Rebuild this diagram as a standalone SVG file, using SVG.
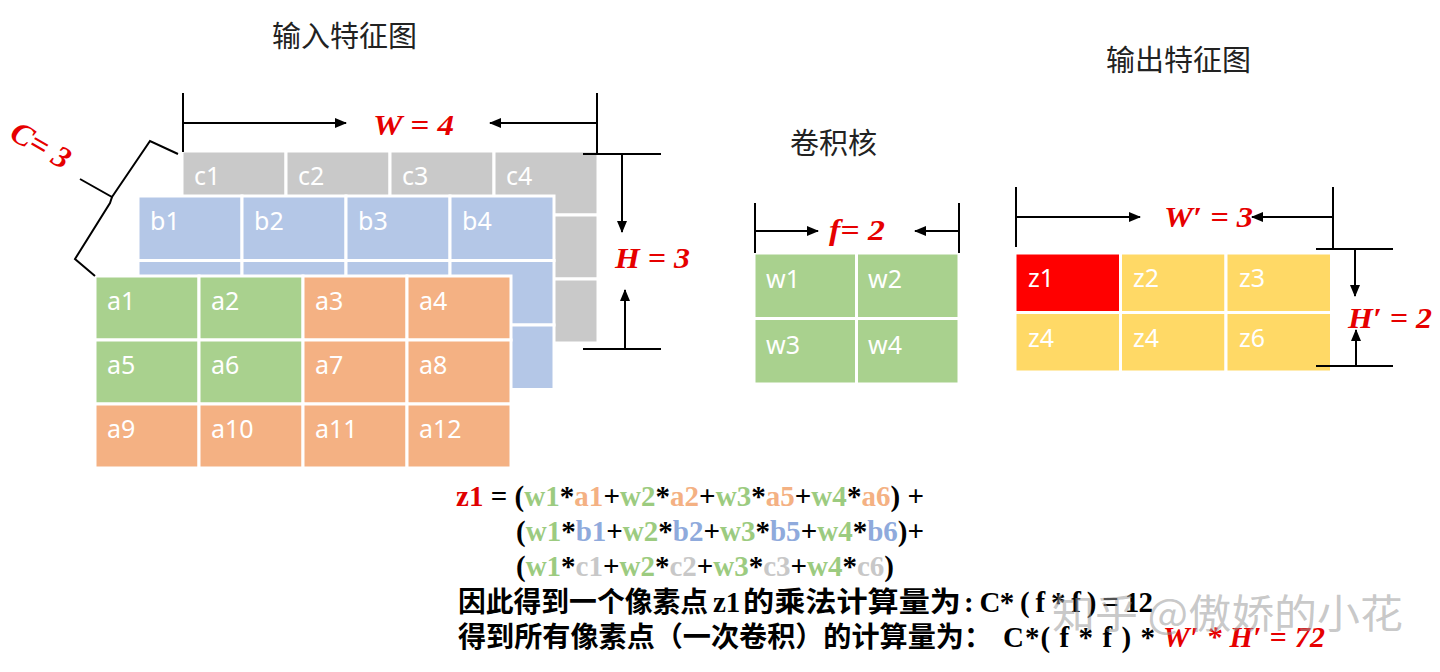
<svg xmlns="http://www.w3.org/2000/svg" width="1440" height="672" viewBox="0 0 1440 672">
<style>
.cell{stroke:#fff;stroke-width:3}
.g{fill:#C9C9C9}.b{fill:#B4C7E7}.gr{fill:#A9D18E}.o{fill:#F4B183}.y{fill:#FFD966}.r{fill:#FF0000}
.lbl{font-family:"Noto Sans","Liberation Sans",sans-serif;font-size:25px;fill:#fff}
.hdr{font-family:"Noto Sans CJK SC","Noto Sans",sans-serif;font-size:29px;fill:#222}
.math{font-family:"Liberation Serif",serif;font-style:italic;font-weight:bold;font-size:30px;fill:#E60000}
.dim{stroke:#000;stroke-width:2;fill:none}
.arr{stroke:#000;stroke-width:2;fill:none;marker-end:url(#ah)}
.f{font-family:"Liberation Serif",serif;font-weight:bold;font-size:29px;fill:#000}
.cw{fill:#9CCB80}.ca{fill:#F4B183}.cb{fill:#8FAADC}.cc{fill:#C8C8C8}.cz{fill:#E00000}
.cn{font-family:"Noto Sans CJK SC",sans-serif;font-weight:bold;font-size:28px;fill:#000}
</style>
<defs>
<marker id="ah" markerUnits="userSpaceOnUse" markerWidth="12" markerHeight="10" refX="11" refY="5" orient="auto">
<path d="M0,0 L12,5 L0,10 z" fill="#000"/>
</marker>
</defs>
<rect width="1440" height="672" fill="#fff"/>

<g id="titles">
<text class="hdr" x="272" y="47">输入特征图</text>
<text class="hdr" x="790" y="154">卷积核</text>
<text class="hdr" x="1106" y="71">输出特征图</text>
</g>

<g id="layer-c">
<rect class="cell g" x="182" y="151" width="104" height="64"/>
<rect class="cell g" x="286" y="151" width="104" height="64"/>
<rect class="cell g" x="390" y="151" width="104" height="64"/>
<rect class="cell g" x="494" y="151" width="104" height="64"/>
<rect class="cell g" x="182" y="215" width="104" height="64"/>
<rect class="cell g" x="286" y="215" width="104" height="64"/>
<rect class="cell g" x="390" y="215" width="104" height="64"/>
<rect class="cell g" x="494" y="215" width="104" height="64"/>
<rect class="cell g" x="182" y="279" width="104" height="64"/>
<rect class="cell g" x="286" y="279" width="104" height="64"/>
<rect class="cell g" x="390" y="279" width="104" height="64"/>
<rect class="cell g" x="494" y="279" width="104" height="64"/>
<text class="lbl" x="194" y="185">c1</text>
<text class="lbl" x="298" y="185">c2</text>
<text class="lbl" x="402" y="185">c3</text>
<text class="lbl" x="506" y="185">c4</text>
</g>

<g id="layer-b">
<rect class="cell b" x="138" y="196" width="104" height="64.5"/>
<rect class="cell b" x="242" y="196" width="104" height="64.5"/>
<rect class="cell b" x="346" y="196" width="104" height="64.5"/>
<rect class="cell b" x="450" y="196" width="104" height="64.5"/>
<rect class="cell b" x="138" y="260.5" width="104" height="64.5"/>
<rect class="cell b" x="242" y="260.5" width="104" height="64.5"/>
<rect class="cell b" x="346" y="260.5" width="104" height="64.5"/>
<rect class="cell b" x="450" y="260.5" width="104" height="64.5"/>
<rect class="cell b" x="138" y="325" width="104" height="64.5"/>
<rect class="cell b" x="242" y="325" width="104" height="64.5"/>
<rect class="cell b" x="346" y="325" width="104" height="64.5"/>
<rect class="cell b" x="450" y="325" width="104" height="64.5"/>
<text class="lbl" x="150" y="230">b1</text>
<text class="lbl" x="254" y="230">b2</text>
<text class="lbl" x="358" y="230">b3</text>
<text class="lbl" x="462" y="230">b4</text>
</g>

<g id="layer-a">
<rect class="cell gr" x="95" y="276" width="104" height="64"/>
<rect class="cell gr" x="199" y="276" width="104" height="64"/>
<rect class="cell o" x="303" y="276" width="104" height="64"/>
<rect class="cell o" x="407" y="276" width="104" height="64"/>
<rect class="cell gr" x="95" y="340" width="104" height="64"/>
<rect class="cell gr" x="199" y="340" width="104" height="64"/>
<rect class="cell o" x="303" y="340" width="104" height="64"/>
<rect class="cell o" x="407" y="340" width="104" height="64"/>
<rect class="cell o" x="95" y="404" width="104" height="64"/>
<rect class="cell o" x="199" y="404" width="104" height="64"/>
<rect class="cell o" x="303" y="404" width="104" height="64"/>
<rect class="cell o" x="407" y="404" width="104" height="64"/>
<text class="lbl" x="107" y="310">a1</text>
<text class="lbl" x="211" y="310">a2</text>
<text class="lbl" x="315" y="310">a3</text>
<text class="lbl" x="419" y="310">a4</text>
<text class="lbl" x="107" y="374">a5</text>
<text class="lbl" x="211" y="374">a6</text>
<text class="lbl" x="315" y="374">a7</text>
<text class="lbl" x="419" y="374">a8</text>
<text class="lbl" x="107" y="438">a9</text>
<text class="lbl" x="211" y="438">a10</text>
<text class="lbl" x="315" y="438">a11</text>
<text class="lbl" x="419" y="438">a12</text>
</g>

<g id="kernel">
<rect class="cell gr" x="754" y="253" width="102.5" height="65.5"/>
<rect class="cell gr" x="856.5" y="253" width="102.5" height="65.5"/>
<rect class="cell gr" x="754" y="318.5" width="102.5" height="65.5"/>
<rect class="cell gr" x="856.5" y="318.5" width="102.5" height="65.5"/>
<text class="lbl" x="766" y="288">w1</text>
<text class="lbl" x="868" y="288">w2</text>
<text class="lbl" x="766" y="354">w3</text>
<text class="lbl" x="868" y="354">w4</text>
</g>

<g id="output">
<rect class="cell r" x="1015" y="253" width="105.5" height="59.5"/>
<rect class="cell y" x="1120.5" y="253" width="105.5" height="59.5"/>
<rect class="cell y" x="1226" y="253" width="105.5" height="59.5"/>
<rect class="cell y" x="1015" y="312.5" width="105.5" height="59.5"/>
<rect class="cell y" x="1120.5" y="312.5" width="105.5" height="59.5"/>
<rect class="cell y" x="1226" y="312.5" width="105.5" height="59.5"/>
<text class="lbl" x="1028" y="287">z1</text>
<text class="lbl" x="1133" y="287">z2</text>
<text class="lbl" x="1239" y="287">z3</text>
<text class="lbl" x="1028" y="347">z4</text>
<text class="lbl" x="1133" y="347">z4</text>
<text class="lbl" x="1239" y="347">z6</text>
</g>

<g id="connectors">
<line class="dim" x1="183" y1="93" x2="183" y2="152"/>
<line class="dim" x1="597" y1="93" x2="597" y2="155"/>
<line class="arr" x1="184" y1="123" x2="346" y2="123"/>
<line class="arr" x1="596" y1="123" x2="490" y2="123"/>
<line class="dim" x1="583" y1="154" x2="661" y2="154"/>
<line class="dim" x1="583" y1="349" x2="661" y2="349"/>
<line class="arr" x1="622" y1="155" x2="622" y2="232"/>
<line class="arr" x1="625" y1="348" x2="625" y2="290"/>
<polyline class="dim" points="178,154 150,141 112,197 80,179"/>
<polyline class="dim" points="112,197 110,203 75,259 95,276"/>
<line class="dim" x1="755" y1="203" x2="755" y2="253"/>
<line class="dim" x1="959" y1="203" x2="959" y2="253"/>
<line class="arr" x1="756" y1="231" x2="818" y2="231"/>
<line class="arr" x1="958" y1="231" x2="915" y2="231"/>
<line class="dim" x1="1016" y1="187" x2="1016" y2="247"/>
<line class="dim" x1="1333" y1="187" x2="1333" y2="249"/>
<line class="arr" x1="1017" y1="217" x2="1140" y2="217"/>
<line class="arr" x1="1332" y1="217" x2="1252" y2="217"/>
<line class="dim" x1="1316" y1="249" x2="1393" y2="249"/>
<line class="dim" x1="1316" y1="366" x2="1393" y2="366"/>
<line class="arr" x1="1355" y1="250" x2="1355" y2="296"/>
<line class="arr" x1="1356" y1="365" x2="1356" y2="330"/>
</g>

<g id="dim-labels">
<text class="math" x="373" y="135" textLength="81" lengthAdjust="spacingAndGlyphs">W = 4</text>
<text class="math" x="615" y="268" textLength="75" lengthAdjust="spacingAndGlyphs">H = 3</text>
<text class="math" x="829" y="240" textLength="56" lengthAdjust="spacingAndGlyphs">f= 2</text>
<text class="math" x="1164" y="227" textLength="89" lengthAdjust="spacingAndGlyphs">W′ = 3</text>
<text class="math" x="1348" y="328" textLength="84" lengthAdjust="spacingAndGlyphs">H′ = 2</text>
<text x="8" y="138" transform="rotate(30 8 138)" textLength="64" lengthAdjust="spacingAndGlyphs" style="font-family:'Liberation Serif',serif;font-style:italic;font-weight:bold;font-size:31px;fill:#E60000">C= 3</text>
</g>

<g id="formula">
<text class="f" x="456" y="506" textLength="468" lengthAdjust="spacing"><tspan class="cz">z1</tspan> = (<tspan class="cw">w1</tspan>*<tspan class="ca">a1</tspan>+<tspan class="cw">w2</tspan>*<tspan class="ca">a2</tspan>+<tspan class="cw">w3</tspan>*<tspan class="ca">a5</tspan>+<tspan class="cw">w4</tspan>*<tspan class="ca">a6</tspan>) +</text>
<text class="f" x="516" y="541" textLength="408" lengthAdjust="spacing">(<tspan class="cw">w1</tspan>*<tspan class="cb">b1</tspan>+<tspan class="cw">w2</tspan>*<tspan class="cb">b2</tspan>+<tspan class="cw">w3</tspan>*<tspan class="cb">b5</tspan>+<tspan class="cw">w4</tspan>*<tspan class="cb">b6</tspan>)+</text>
<text class="f" x="516" y="576" textLength="378" lengthAdjust="spacing">(<tspan class="cw">w1</tspan>*<tspan class="cc">c1</tspan>+<tspan class="cw">w2</tspan>*<tspan class="cc">c2</tspan>+<tspan class="cw">w3</tspan>*<tspan class="cc">c3</tspan>+<tspan class="cw">w4</tspan>*<tspan class="cc">c6</tspan>)</text>
<text class="cn" x="458" y="612" textLength="250" lengthAdjust="spacingAndGlyphs">因此得到一个像素点</text>
<text class="f" x="713" y="612">z1</text>
<text class="cn" x="743" y="612" textLength="218" lengthAdjust="spacingAndGlyphs">的乘法计算量为</text>
<text class="f" x="964" y="612" textLength="189" lengthAdjust="spacing">: C* ( f * f ) = 12</text>
<text class="cn" x="458" y="647" textLength="534" lengthAdjust="spacingAndGlyphs">得到所有像素点（一次卷积）的计算量为：</text>
<text class="f" x="1003" y="647" textLength="152" lengthAdjust="spacing">C*( f * f ) *</text>
<text class="math" x="1163" y="647" textLength="162" lengthAdjust="spacing">W′ * H′ = 72</text>
</g>

<g id="watermark">
<text x="1052" y="628" textLength="351" lengthAdjust="spacingAndGlyphs" style="font-family:'Noto Sans CJK SC',sans-serif;font-size:40px;fill:#9a9a9a;fill-opacity:0.55">知乎 @傲娇的小花</text>
</g>
</svg>
